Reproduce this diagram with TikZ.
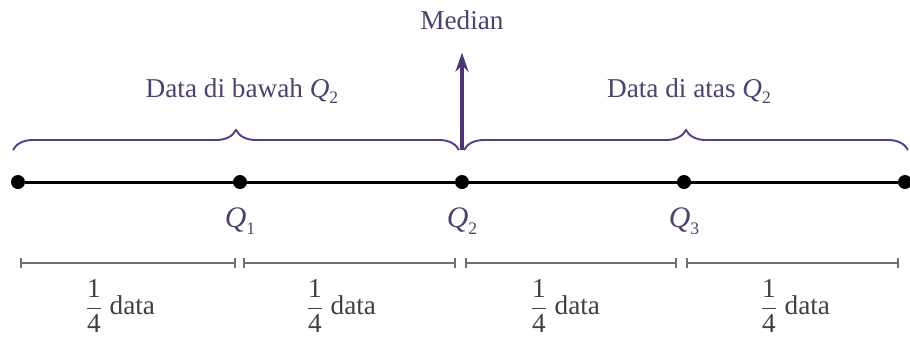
\documentclass[tikz,border=0pt]{standalone}
\usepackage{amsmath}
\usepackage{fontspec}
\setmainfont{Liberation Serif}
\newfontfamily\timesfont{Liberation Serif}
\usepackage{tikz}
\usetikzlibrary{decorations.pathreplacing,arrows.meta}
\definecolor{txtPurple}{HTML}{4A4270}
\definecolor{brPurple}{HTML}{5A3D8A}
\definecolor{spanGray}{HTML}{707070}
\newcommand{\qsub}[1]{\textit{Q}\raisebox{-0.5ex}{\fontsize{10}{12}\selectfont #1}}
\newcommand{\quart}{$\dfrac{\text{\timesfont 1}}{\text{\timesfont 4}}$}

\begin{document}
\begin{tikzpicture}[x=0.02cm, y=-0.02cm, font=\timesfont\fontsize{15.5}{18}\selectfont,
  dot/.style={circle, fill=black, inner sep=0pt, minimum size=0.28cm},
  lbl/.style={text=txtPurple, inner sep=1pt},
  brc/.style={brPurple, line width=1.1pt, decorate,
    decoration={brace, amplitude=0.4cm}},
  span/.style={spanGray, line width=1.3pt, {Bar[width=0.2cm]}-{Bar[width=0.2cm]}}]
  \useasboundingbox (0,0) rectangle (910,336);
  % the number line with its five points
  \foreach \i/\x in {0/18, 1/240, 2/462, 3/684, 4/905}
    \node[dot] (q\i) at (\x,182) {};
  \draw[line width=1.7pt] (q0) -- (q4);
  \foreach \i in {1,2,3}
    \node[lbl] (ql\i) at (\i*222+18,221) {\fontsize{17}{20}\selectfont\qsub{\i}};
  % halves above the line
  \draw[brc] (13,150) -- (459,150);
  \draw[brc] (464,150) -- (908,150);
  \node[lbl] (lo) at (242,91) {Data di bawah \qsub{2}};
  \node[lbl] (hi) at (689,91) {Data di atas \qsub{2}};
  \node[lbl] (med) at (462,20) {Median};
  \coordinate (mtail) at (462,150);
  \draw[brPurple!85!black, line width=1.8pt, -{Stealth[length=0.38cm, width=0.26cm]}]
    (mtail) -- ([yshift=-0.42cm]med.south);
  % quarters below the line
  \foreach \a/\b in {20/236, 243/456, 465/677, 686/899}
    \draw[span] (\a,263) -- (\b,263);
  \foreach \i/\x in {1/120, 2/341, 3/565, 4/795}
    \node[lbl, text=black!75] (f\i) at (\x,306) {\quart\ data};
\end{tikzpicture}
\end{document}
